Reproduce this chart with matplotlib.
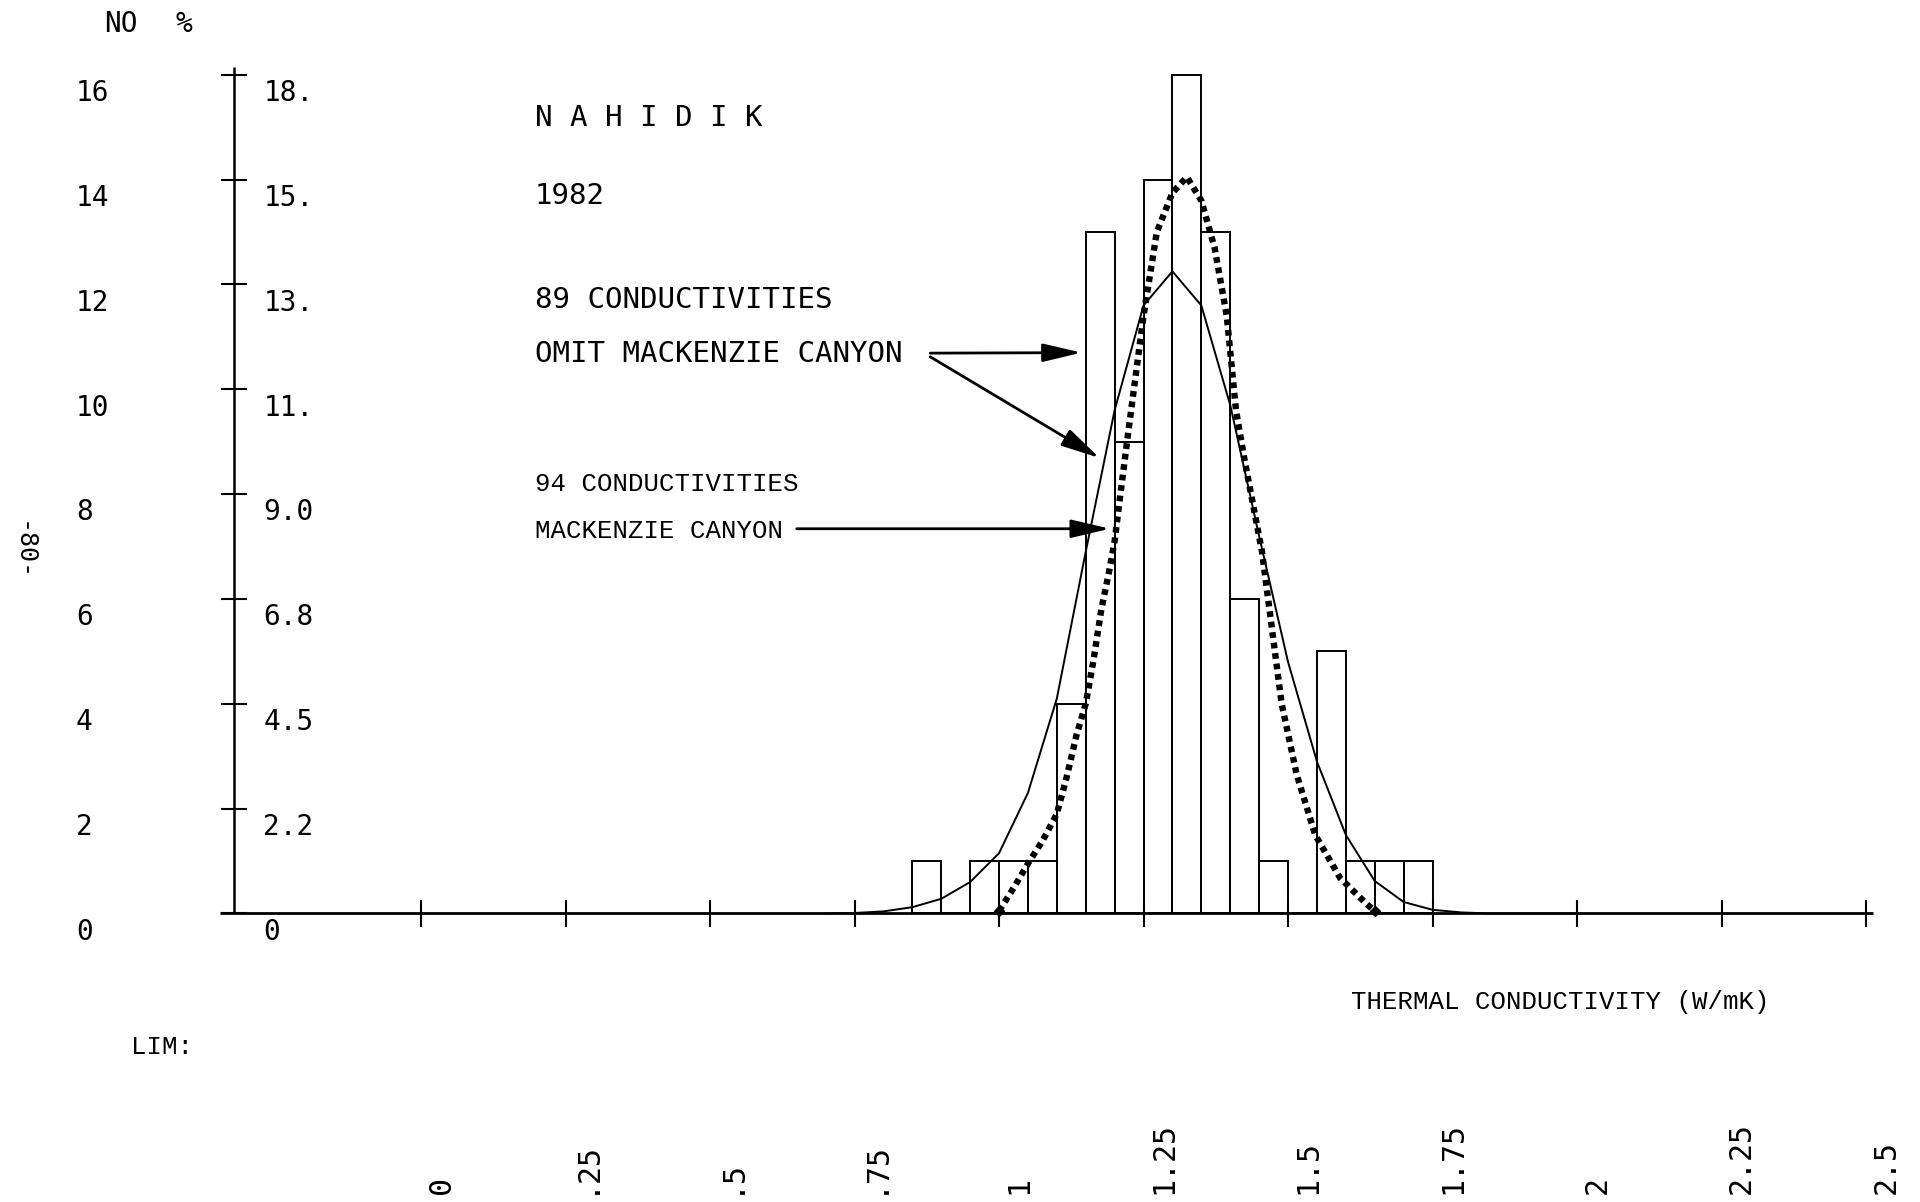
import matplotlib.pyplot as plt

# histogram: 0.05 W/mK classes, number of samples per class
bin_left = [0.85, 0.90, 0.95, 1.00, 1.05, 1.10, 1.15, 1.20, 1.25,
            1.30, 1.35, 1.40, 1.45, 1.50, 1.55, 1.60, 1.65, 1.70]
counts = [1, 0, 1, 1, 1, 4, 13, 9, 14, 16, 13, 6, 1, 0, 5, 1, 1, 1]
bin_w = 0.05

# solid curve (89 conductivities, omit Mackenzie Canyon)
fit_x = [0.70, 0.75, 0.80, 0.85, 0.90, 0.95, 1.00, 1.05, 1.10, 1.15, 1.20,
         1.25, 1.30, 1.35, 1.40, 1.45, 1.50, 1.55, 1.60, 1.65, 1.70, 1.75,
         1.80, 1.85, 1.90, 1.95, 2.00]
fit_y = [0.0, 0.01, 0.04, 0.12, 0.28, 0.6, 1.15, 2.3, 4.1, 6.9, 9.6,
         11.6, 12.25, 11.6, 9.7, 7.2, 4.8, 2.9, 1.5, 0.62, 0.22, 0.07,
         0.02, 0.0, 0.0, 0.0, 0.0]

# dotted curve (94 conductivities, Mackenzie Canyon)
mc_x = [1.000, 1.026, 1.050, 1.076, 1.100, 1.117, 1.134, 1.150, 1.163,
        1.177, 1.190, 1.200, 1.210, 1.225, 1.250, 1.273, 1.300, 1.325,
        1.350, 1.373, 1.394, 1.410, 1.424, 1.455, 1.489, 1.515, 1.547,
        1.590, 1.636, 1.650]
mc_y = [0.05, 0.5, 0.95, 1.4, 1.9, 2.6, 3.4, 4.0, 4.8,
        5.8, 6.5, 7.1, 8.0, 9.3, 11.4, 13.0, 13.75, 14.05,
        13.6, 12.7, 11.4, 9.6, 8.7, 6.9, 4.0, 2.65, 1.5,
        0.68, 0.18, 0.05]

no_ticks = [0, 2, 4, 6, 8, 10, 12, 14, 16]
no_labels = ['0', '2', '4', '6', '8', '10', '12', '14', '16']
pct_labels = ['0', '2.2', '4.5', '6.8', '9.0', '11.', '13.', '15.', '18.']
x_ticks = [0, 0.25, 0.5, 0.75, 1.0, 1.25, 1.5, 1.75, 2.0, 2.25, 2.5]
x_labels = ['0', '.25', '.5', '.75', '1', '1.25', '1.5', '1.75', '2', '2.25', '2.5']

PLOT_FONT = 'DejaVu Sans Mono'
TYPE_FONT = 'Liberation Mono'

fig = plt.figure(figsize=(19.2, 12.02), dpi=100)
ax = fig.add_axes([0, 0, 1, 1])
ax.set_xlim(-0.7284, 2.5934)
ax.set_ylim(-5.504, 17.427)
ax.axis('off')

y_axis_x = -0.3235
tick_dx = 0.0225
tick_dy = 0.25

# axes drawn like the plotter did
ax.vlines(y_axis_x, 0, 16.15, color='k', lw=1.8)
ax.hlines(0, -0.348, 2.512, color='k', lw=2.0)
ax.hlines(no_ticks, y_axis_x - tick_dx, y_axis_x + tick_dx, color='k', lw=1.5)
ax.vlines(x_ticks, -tick_dy, tick_dy, color='k', lw=1.5)

for c, lab, pct in zip(no_ticks, no_labels, pct_labels):
    ax.text(-0.597, c - 0.35, lab, fontsize=20, family=PLOT_FONT,
            ha='left', va='center')
    ax.text(-0.273, c - 0.35, pct, fontsize=20, family=PLOT_FONT,
            ha='left', va='center')

ax.text(-0.548, 16.97, 'NO', fontsize=20, family=PLOT_FONT, ha='left', va='center')
ax.text(-0.4256, 16.97, '%', fontsize=20, family=PLOT_FONT, ha='left', va='center')

for xv, lab in zip(x_ticks, x_labels):
    ax.text(xv + 0.0346, -5.35, lab, fontsize=21.5, family=PLOT_FONT,
            rotation=90, ha='center', va='bottom')

# histogram bars
ax.bar(bin_left, counts, width=bin_w, align='edge', fill=False,
       edgecolor='k', linewidth=1.4)

# curves
ax.plot(fit_x, fit_y, color='k', lw=1.4)
ax.plot(mc_x, mc_y, color='k', lw=4.6, linestyle=(0, (0.9, 0.75)),
        marker='D', markersize=5, markevery=[0, len(mc_x) - 1])

# labels
ax.text(0.197, 15.18, 'N A H I D I K', fontsize=21, family=PLOT_FONT, va='center')
ax.text(0.197, 13.69, '1982', fontsize=21, family=PLOT_FONT, va='center')
ax.text(0.197, 11.70, '89 CONDUCTIVITIES', fontsize=21, family=PLOT_FONT, va='center')
ax.text(0.197, 10.67, 'OMIT MACKENZIE CANYON', fontsize=21, family=PLOT_FONT,
        va='center')
ax.text(0.197, 8.19, '94 CONDUCTIVITIES', fontsize=18.5, family=TYPE_FONT,
        va='center')
ax.text(0.197, 7.30, 'MACKENZIE CANYON', fontsize=18.5, family=TYPE_FONT,
        va='center')

arrow = dict(arrowstyle='-|>,head_length=0.85,head_width=0.2', color='k',
             lw=2, mutation_scale=28, shrinkA=0, shrinkB=0)
ax.annotate('', xy=(1.143, 10.70), xytext=(0.881, 10.69), arrowprops=arrow)
ax.annotate('', xy=(1.174, 8.69), xytext=(0.881, 10.62), arrowprops=arrow)
ax.annotate('', xy=(1.192, 7.34), xytext=(0.650, 7.34), arrowprops=arrow)

ax.text(1.609, -1.69, 'THERMAL CONDUCTIVITY (W/mK)', fontsize=18.5,
        family=TYPE_FONT, va='center')
ax.text(-0.502, -2.55, 'LIM:', fontsize=18.5, family=TYPE_FONT, va='center')
ax.text(-0.690, 6.92, '-80-', fontsize=18, family=PLOT_FONT, rotation=270,
        ha='center', va='center')

fig.savefig('out.png', dpi=100, facecolor='white')
